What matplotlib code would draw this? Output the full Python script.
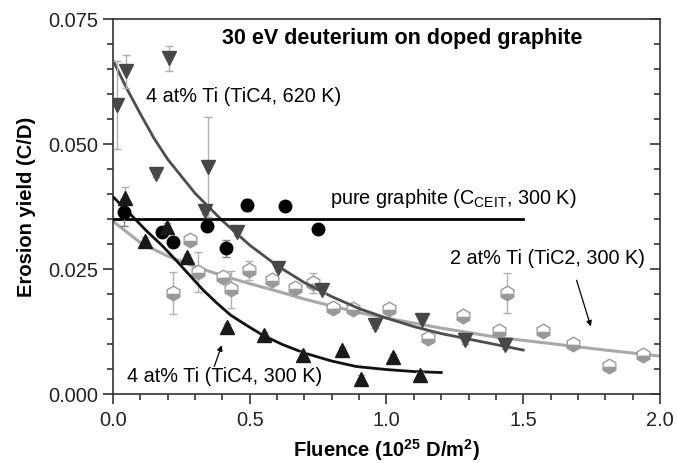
import matplotlib
matplotlib.use('Agg')
import matplotlib.pyplot as plt
from matplotlib.ticker import MultipleLocator

plt.rcParams['font.family'] = ['Liberation Sans', 'DejaVu Sans']
plt.rcParams['mathtext.default'] = 'regular'

### pure graphite (CEIT, 300 K)
graphite_x = [0.040, 0.178, 0.220, 0.345, 0.413, 0.489, 0.629, 0.751]
graphite_y = [0.0364, 0.0325, 0.0305, 0.0336, 0.0292, 0.0379, 0.0377, 0.0330]
graphite_err = [0.0027, 0.0, 0.0, 0.0, 0.0017, 0.0012, 0.0, 0.0]
graphite_level = 0.035
graphite_xrange = [0.0, 1.5]

### 4 at% Ti (TiC4, 620 K)
tic4hot_x = [0.016, 0.048, 0.157, 0.206, 0.336, 0.346, 0.452, 0.604, 0.763, 0.958, 1.129, 1.287, 1.433]
tic4hot_y = [0.0579, 0.0646, 0.0441, 0.0672, 0.0367, 0.0455, 0.0325, 0.0252, 0.0208, 0.0138, 0.0148, 0.0108, 0.0098]
tic4hot_err = [0.0088, 0.0033, 0.0006, 0.0025, 0.0006, 0.0100, 0.0006, 0.0006, 0.0006, 0.0006, 0.0008, 0.0008, 0.0008]
tic4hot_fit_x = [0.0, 0.05, 0.1, 0.15, 0.2, 0.3, 0.4, 0.5, 0.6, 0.7, 0.8, 0.9, 1.0, 1.1, 1.2, 1.3, 1.4, 1.5]
tic4hot_fit_y = [0.0668, 0.0612, 0.0561, 0.0512, 0.0470, 0.0402, 0.0347, 0.0298, 0.0257, 0.0223,
                 0.0195, 0.0171, 0.0152, 0.0135, 0.0121, 0.0110, 0.0099, 0.0088]

### 4 at% Ti (TiC4, 300 K)
tic4_x = [0.044, 0.118, 0.196, 0.269, 0.416, 0.552, 0.694, 0.836, 0.908, 1.022, 1.122]
tic4_y = [0.0392, 0.0306, 0.0335, 0.0275, 0.0135, 0.0118, 0.0078, 0.0088, 0.0031, 0.0075, 0.0039]
tic4_err = [0.0023, 0.0008, 0.0008, 0.0006, 0.0006, 0.0006, 0.0006, 0.0006, 0.0008, 0.0006, 0.0006]
tic4_fit_x = [0.0, 0.06, 0.12, 0.18, 0.23, 0.28, 0.33, 0.38, 0.43, 0.49, 0.55, 0.62, 0.70, 0.80, 0.89, 1.00, 1.10, 1.20]
tic4_fit_y = [0.0395, 0.0362, 0.0328, 0.0297, 0.0268, 0.0238, 0.0208, 0.0182, 0.0158, 0.0137,
              0.0117, 0.0099, 0.0082, 0.0066, 0.0055, 0.0049, 0.0045, 0.0043]

### 2 at% Ti (TiC2, 300 K)
tic2_x = [0.219, 0.283, 0.311, 0.402, 0.433, 0.498, 0.580, 0.665, 0.732, 0.805, 0.879, 1.010,
          1.151, 1.281, 1.412, 1.439, 1.571, 1.683, 1.815, 1.937]
tic2_y = [0.0202, 0.0308, 0.0245, 0.0234, 0.0210, 0.0248, 0.0228, 0.0212, 0.0222, 0.0172, 0.0170, 0.0170,
          0.0112, 0.0156, 0.0127, 0.0202, 0.0127, 0.0100, 0.0056, 0.0078]
tic2_err = [0.0042, 0.0010, 0.0040, 0.0006, 0.0037, 0.0019, 0.0006, 0.0006, 0.0020, 0.0006, 0.0008, 0.0006,
            0.0006, 0.0006, 0.0006, 0.0040, 0.0006, 0.0006, 0.0006, 0.0006]
tic2_fit_x = [0.0, 0.1, 0.2, 0.3, 0.4, 0.5, 0.6, 0.7, 0.8, 0.9, 1.0, 1.2, 1.4, 1.6, 1.8, 2.0]
tic2_fit_y = [0.0346, 0.0303, 0.0276, 0.0255, 0.0237, 0.0221, 0.0206, 0.0190, 0.0176, 0.0163,
              0.0152, 0.0132, 0.0114, 0.0101, 0.0088, 0.0076]

fig = plt.figure(figsize=(6.77, 4.63), dpi=100)
ax = fig.add_axes([0.1669, 0.149, 0.808, 0.809])

ecol = '#b0b0b0'
# TiC2 (behind)
ax.plot(tic2_fit_x, tic2_fit_y, color='#a8a8a8', lw=2.2, zorder=2)
ax.errorbar(tic2_x, tic2_y, yerr=tic2_err, fmt='h', ms=10.5, mfc='#999999', mfcalt='white',
            fillstyle='bottom', mec='#999999', mew=1.0, ecolor=ecol, elinewidth=1, capsize=3,
            zorder=3)

# TiC4 620 K
ax.plot(tic4hot_fit_x, tic4hot_fit_y, color='#4d4d4d', lw=2.0, zorder=4)
ax.errorbar(tic4hot_x, tic4hot_y, yerr=tic4hot_err, fmt='v', ms=10, color='#474747',
            ecolor=ecol, elinewidth=1, capsize=3, zorder=5)

# pure graphite
ax.plot(graphite_xrange, [graphite_level, graphite_level], color='black', lw=2.0, zorder=4)
ax.errorbar(graphite_x, graphite_y, yerr=graphite_err, fmt='o', ms=9, color='black',
            ecolor='#808080', elinewidth=1, capsize=3, zorder=6)

# TiC4 300 K
ax.plot(tic4_fit_x, tic4_fit_y, color='#111111', lw=2.0, zorder=5)
ax.errorbar(tic4_x, tic4_y, yerr=tic4_err, fmt='^', ms=10, color='#1a1a1a',
            ecolor=ecol, elinewidth=1, capsize=3, zorder=6)

ax.set_xlim(0, 2.0)
ax.set_ylim(0, 0.075)
ax.xaxis.set_major_locator(MultipleLocator(0.5))
ax.xaxis.set_minor_locator(MultipleLocator(0.1))
ax.yaxis.set_major_locator(MultipleLocator(0.025))
ax.yaxis.set_minor_locator(MultipleLocator(0.005))
ax.xaxis.set_major_formatter(plt.FuncFormatter(lambda v, p: '%.1f' % v))
ax.yaxis.set_major_formatter(plt.FuncFormatter(lambda v, p: '%.3f' % v))

ax.tick_params(which='both', direction='out', labelsize=14.4, width=1.1, colors='#222222')
ax.tick_params(which='major', length=7)
ax.tick_params(which='minor', length=4)
ax.tick_params(axis='x', which='major', pad=5)
ax.tick_params(axis='y', which='both', right=True)
for sp in ax.spines.values():
    sp.set_linewidth(1.2)
    sp.set_color('#333333')

# right-side ticks point inward
for t in ax.yaxis.get_major_ticks() + ax.yaxis.get_minor_ticks():
    t.tick2line.set_marker(matplotlib.lines.TICKLEFT)

ax.set_xlabel('Fluence (10$^{25}$ D/m$^{2}$)', fontsize=14.5, fontweight='bold', labelpad=5)
ax.set_ylabel('Erosion yield (C/D)', fontsize=14.5, fontweight='bold', labelpad=9)

ax.text(1.057, 0.0712, '30 eV deuterium on doped graphite', fontsize=15.5, fontweight='bold',
        ha='center', va='center')
ax.text(0.12, 0.0595, '4 at% Ti (TiC4, 620 K)', fontsize=14.3, ha='left', va='center')
ax.text(0.795, 0.0391, 'pure graphite (C$_{CEIT}$, 300 K)', fontsize=14.3, ha='left', va='center')
ax.text(1.232, 0.0272, '2 at% Ti (TiC2, 300 K)', fontsize=14.3, ha='left', va='center')
ax.text(0.05, 0.0035, '4 at% Ti (TiC4, 300 K)', fontsize=14.3, ha='left', va='center')

ax.annotate('', xy=(0.401, 0.0103), xytext=(0.367, 0.0050),
            arrowprops=dict(arrowstyle='-|>', color='black', lw=0.9, mutation_scale=8))
ax.annotate('', xy=(1.750, 0.0130), xytext=(1.692, 0.0233),
            arrowprops=dict(arrowstyle='-|>', color='black', lw=0.9, mutation_scale=8))

fig.savefig('out.png', dpi=100)
